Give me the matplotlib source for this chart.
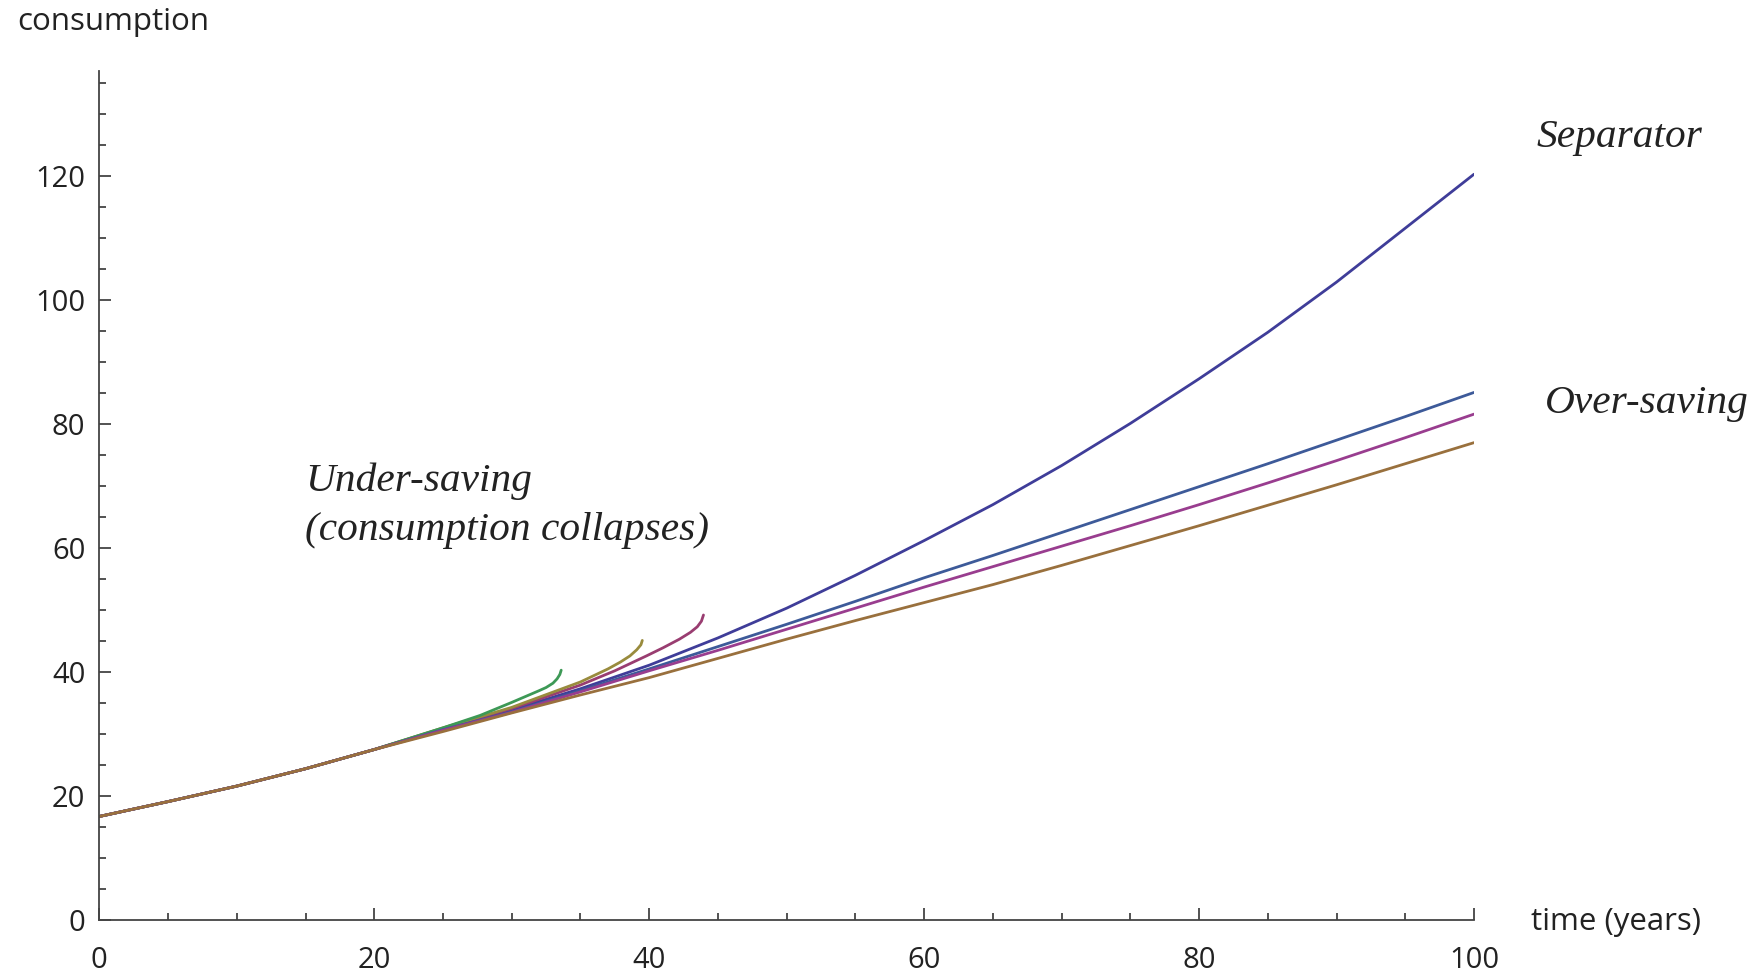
import matplotlib.pyplot as plt
from matplotlib.ticker import MultipleLocator

# shared start of every path (years, consumption)
trunk_t = [0, 5, 10, 15, 20]
trunk_c = [16.7, 19.1, 21.6, 24.4, 27.5]

# separator path
sep_t = [25, 30, 35, 40, 45, 50, 55, 60, 65, 70, 75, 80, 85, 90, 95, 100]
sep_c = [30.8, 33.9, 37.3, 41.1, 45.5, 50.3, 55.6, 61.2, 67.0, 73.3, 80.1, 87.3, 94.8, 102.9, 111.6, 120.3]

# under-saving paths (collapse)
red_t = [25, 30, 35, 37.5, 39.8, 41.0, 42.2, 43.0, 43.5, 43.8, 43.95]
red_c = [30.9, 34.1, 37.9, 40.2, 42.6, 43.9, 45.3, 46.4, 47.3, 48.2, 49.2]
olive_t = [25, 30, 35, 37.0, 37.9, 38.6, 39.1, 39.4, 39.5]
olive_c = [31.0, 34.3, 38.4, 40.5, 41.6, 42.6, 43.6, 44.4, 45.1]
green_t = [25, 27.7, 30, 32.0, 32.5, 33.0, 33.3, 33.5, 33.6]
green_c = [31.0, 33.0, 35.1, 37.0, 37.5, 38.2, 38.9, 39.6, 40.3]

# over-saving paths
blue_t = [25, 30, 35, 40, 45, 50, 55, 60, 65, 70, 75, 80, 85, 90, 95, 100]
blue_c = [30.7, 33.6, 37.0, 40.5, 44.1, 47.7, 51.4, 55.2, 58.8, 62.5, 66.2, 69.9, 73.6, 77.4, 81.2, 85.1]
mag_t = [25, 30, 35, 40, 45, 50, 55, 60, 65, 70, 75, 80, 85, 90, 95, 100]
mag_c = [30.6, 33.5, 36.8, 40.2, 43.5, 46.9, 50.3, 53.7, 57.0, 60.3, 63.6, 67.0, 70.5, 74.1, 77.8, 81.6]
brown_t = [25, 30, 35, 40, 45, 50, 55, 60, 65, 70, 75, 80, 85, 90, 95, 100]
brown_c = [30.4, 33.4, 36.3, 39.1, 42.2, 45.3, 48.3, 51.2, 54.1, 57.2, 60.4, 63.6, 66.9, 70.2, 73.6, 77.0]

series = [
    (sep_t, sep_c, '#3f3d99'),
    (red_t, red_c, '#993d71'),
    (olive_t, olive_c, '#998b3d'),
    (green_t, green_c, '#3d9956'),
    (blue_t, blue_c, '#3d5a99'),
    (mag_t, mag_c, '#993d8f'),
    (brown_t, brown_c, '#99703d'),
]

W, H = 1756, 973
fig = plt.figure(figsize=(W / 100, H / 100), dpi=100)
ax = fig.add_axes([99.3 / W, 1 - 920 / H, (1474 - 99.3) / W, (920 - 70.7) / H])

for t, c, col in series:
    ax.plot(trunk_t + t, trunk_c + c, color=col, lw=2.0,
            solid_capstyle='round', solid_joinstyle='round')

ax.set_xlim(0, 100)
ax.set_ylim(0, 137)
ax.spines['top'].set_visible(False)
ax.spines['right'].set_visible(False)
for s in ['left', 'bottom']:
    ax.spines[s].set_color('#444444')
    ax.spines[s].set_linewidth(1.3)

ax.xaxis.set_major_locator(MultipleLocator(20))
ax.xaxis.set_minor_locator(MultipleLocator(5))
ax.yaxis.set_major_locator(MultipleLocator(20))
ax.yaxis.set_minor_locator(MultipleLocator(5))
ax.set_yticks(range(0, 121, 20))
ax.tick_params(which='both', direction='in', color='#444444', width=1.3)
ax.tick_params(which='major', length=8.5)
ax.tick_params(which='minor', length=5)
ax.tick_params(axis='x', which='major', pad=19)
ax.tick_params(axis='y', which='major', pad=10)
for lab in ax.get_xticklabels() + ax.get_yticklabels():
    lab.set_fontfamily('Open Sans')
    lab.set_fontsize(21)
    lab.set_color('#222222')

sans = dict(family='Open Sans', fontsize=22.5, color='#222222')
serif = dict(family='Liberation Serif', style='italic', fontsize=29.8, color='#222222')

fig.text(17 / W, 1 - 30 / H, 'consumption', va='baseline', **sans)
fig.text(1531 / W, 1 - 930 / H, 'time (years)', va='baseline', **sans)
fig.text(1537 / W, 1 - 147 / H, 'Separator', va='baseline', **serif)
fig.text(1545 / W, 1 - 413 / H, 'Over-saving', va='baseline', **serif)
fig.text(305 / W, 1 - 491 / H, 'Under-saving', va='baseline', **serif)
fig.text(305 / W, 1 - 540 / H, '(consumption collapses)', va='baseline', **serif)

fig.savefig('out.png', dpi=100)
